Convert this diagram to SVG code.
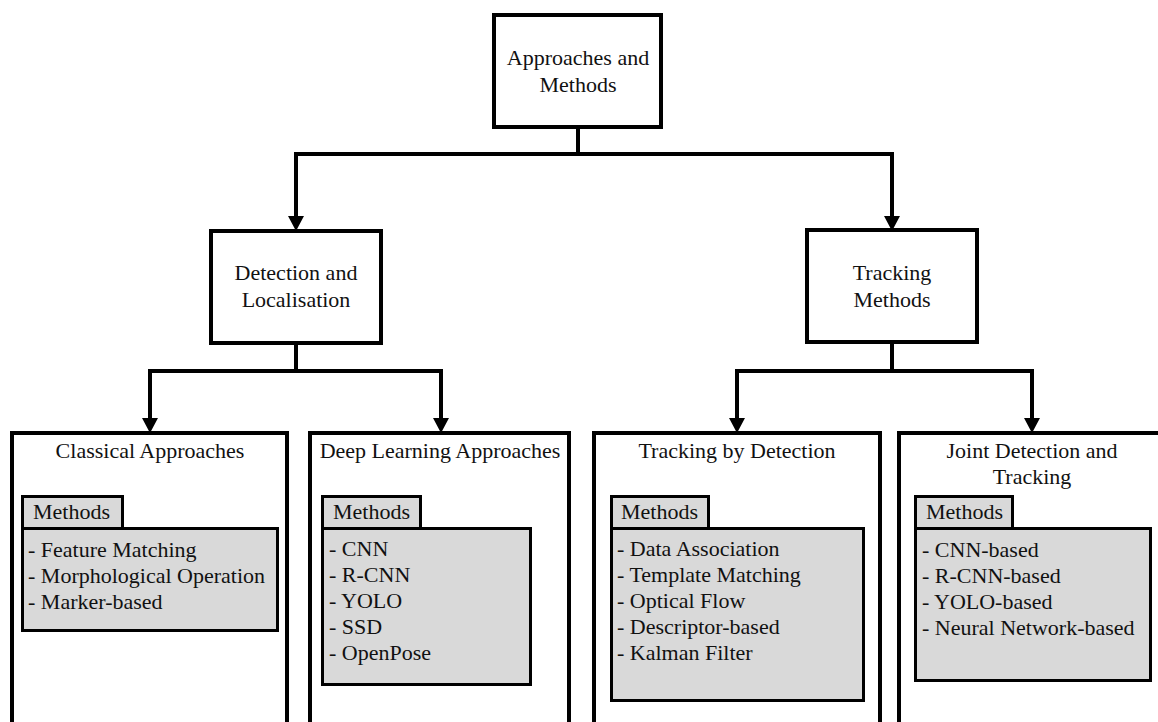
<svg xmlns="http://www.w3.org/2000/svg" width="1158" height="722" viewBox="0 0 1158 722">
<defs>
<style>
.box{fill:#fff;stroke:#000;stroke-width:4}
.tab{fill:#d9d9d9;stroke:#000;stroke-width:3}
.t{font-family:"Liberation Serif","Times New Roman",serif;font-size:22px;fill:#111}
.c{text-anchor:middle}
.conn{fill:none;stroke:#000;stroke-width:4;stroke-linejoin:miter}
</style>
<marker id="ah" markerUnits="userSpaceOnUse" markerWidth="15" markerHeight="16" refX="0" refY="8" orient="auto">
<path d="M0,0 L15,8 L0,16 z" fill="#000"/>
</marker>
</defs>
<rect width="1158" height="722" fill="#fff"/>
<g id="connectors">
<path class="conn" d="M578,127 V154 H296 V216" marker-end="url(#ah)"/>
<path class="conn" d="M578,154 H892 V216" marker-end="url(#ah)"/>
<path class="conn" d="M296,345 V371 H150 V418" marker-end="url(#ah)"/>
<path class="conn" d="M296,371 H441 V418" marker-end="url(#ah)"/>
<path class="conn" d="M892,344 V371 H737 V418" marker-end="url(#ah)"/>
<path class="conn" d="M892,371 H1032 V418" marker-end="url(#ah)"/>
</g>
<g id="root">
<rect class="box" x="494" y="15" width="167" height="112"/>
<text class="t c" x="578" y="65">Approaches and</text>
<text class="t c" x="578" y="92">Methods</text>
</g>
<g id="detection">
<rect class="box" x="211" y="231" width="170" height="112"/>
<text class="t c" x="296" y="280">Detection and</text>
<text class="t c" x="296" y="307">Localisation</text>
</g>
<g id="tracking">
<rect class="box" x="807" y="230" width="170" height="112"/>
<text class="t c" x="892" y="280">Tracking</text>
<text class="t c" x="892" y="307">Methods</text>
</g>
<g id="classical">
<rect class="box" x="12" y="433" width="275" height="320"/>
<text class="t c" x="150" y="458">Classical Approaches</text>
<rect class="tab" x="22.5" y="528.5" width="255" height="102"/>
<rect class="tab" x="22.5" y="496.5" width="100" height="32"/>
<text class="t" x="33" y="519">Methods</text>
<text class="t" x="28" y="557">- Feature Matching</text>
<text class="t" x="28" y="583">- Morphological Operation</text>
<text class="t" x="28" y="609">- Marker-based</text>
</g>
<g id="deep">
<rect class="box" x="310" y="433" width="259" height="320"/>
<text class="t c" x="440" y="458">Deep Learning Approaches</text>
<rect class="tab" x="322.5" y="528.5" width="208" height="156"/>
<rect class="tab" x="322.5" y="496.5" width="98" height="32"/>
<text class="t" x="333" y="519">Methods</text>
<text class="t" x="329" y="556">- CNN</text>
<text class="t" x="329" y="582">- R-CNN</text>
<text class="t" x="329" y="608">- YOLO</text>
<text class="t" x="329" y="634">- SSD</text>
<text class="t" x="329" y="660">- OpenPose</text>
</g>
<g id="tbd">
<rect class="box" x="594" y="433" width="286" height="320"/>
<text class="t c" x="737" y="458">Tracking by Detection</text>
<rect class="tab" x="611.5" y="528.5" width="252" height="172"/>
<rect class="tab" x="611.5" y="496.5" width="97" height="32"/>
<text class="t" x="621" y="519">Methods</text>
<text class="t" x="617" y="556">- Data Association</text>
<text class="t" x="617" y="582">- Template Matching</text>
<text class="t" x="617" y="608">- Optical Flow</text>
<text class="t" x="617" y="634">- Descriptor-based</text>
<text class="t" x="617" y="660">- Kalman Filter</text>
</g>
<g id="joint">
<rect class="box" x="899" y="433" width="300" height="320"/>
<text class="t c" x="1032" y="458">Joint Detection and</text>
<text class="t c" x="1032" y="484">Tracking</text>
<rect class="tab" x="915.5" y="528.5" width="235" height="152"/>
<rect class="tab" x="915.5" y="496.5" width="97" height="32"/>
<text class="t" x="926" y="519">Methods</text>
<text class="t" x="922" y="557">- CNN-based</text>
<text class="t" x="922" y="583">- R-CNN-based</text>
<text class="t" x="922" y="609">- YOLO-based</text>
<text class="t" x="922" y="635">- Neural Network-based</text>
</g>
</svg>
